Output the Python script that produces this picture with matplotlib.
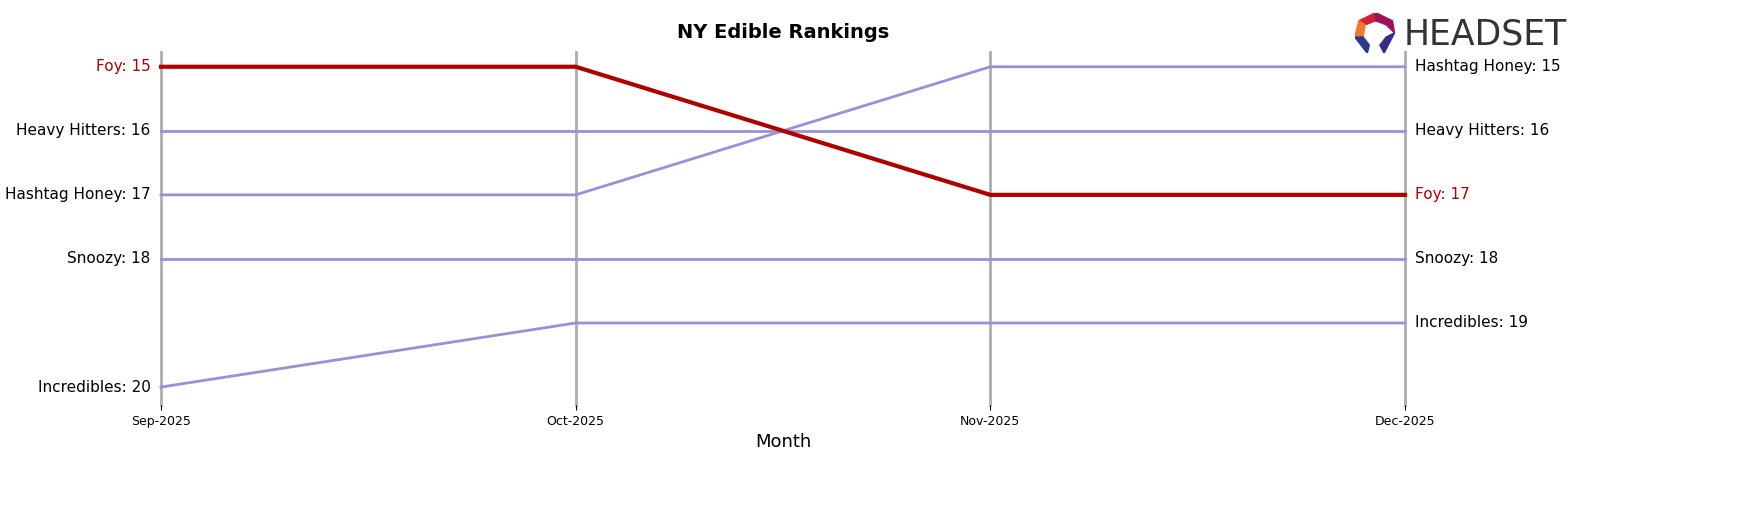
import matplotlib
matplotlib.use("Agg")
import matplotlib.pyplot as plt
from matplotlib.patches import Polygon

months = ["Sep-2025", "Oct-2025", "Nov-2025", "Dec-2025"]
brands = ["Foy", "Heavy Hitters", "Hashtag Honey", "Snoozy", "Incredibles"]
foy = [15, 15, 17, 17]
heavy_hitters = [16, 16, 16, 16]
hashtag_honey = [17, 17, 15, 15]
snoozy = [18, 18, 18, 18]
incredibles = [20, 19, 19, 19]
ranks = [foy, heavy_hitters, hashtag_honey, snoozy, incredibles]

highlight = "#b00000"
other = "#9b8fd9"

fig = plt.figure(figsize=(17.48, 5.07), dpi=100)
ax = fig.add_axes([0.0921, 0.2012, 0.7117, 0.6962])
x = list(range(len(months)))

for xi in x:
    ax.axvline(xi, color="#999999", lw=2, alpha=0.8, zorder=1, clip_on=False)

for name, r in zip(brands, ranks):
    is_hl = name == "Foy"
    ax.plot(x, r, color=highlight if is_hl else other,
            lw=3 if is_hl else 2, zorder=3 if is_hl else 2, clip_on=False)
    c = highlight if is_hl else "black"
    ax.text(-0.025, r[0], f"{name}: {r[0]}", ha="right", va="center",
            fontsize=11, color=c)
    ax.text(x[-1] + 0.025, r[-1], f"{name}: {r[-1]}", ha="left",
            va="center", fontsize=11, color=c)

ax.set_xlim(0, 3)
ax.set_ylim(20.28, 14.77)
ax.set_yticks([])
ax.set_xticks(x)
ax.set_xticklabels(months, fontsize=9)
ax.set_xlabel("Month", fontsize=13)
for s in ax.spines.values():
    s.set_visible(False)
ax.set_title("NY Edible Rankings", fontsize=14, fontweight="bold", pad=10)

# logo
fig.text(0.803, 0.932, "HEADSET", fontsize=25, color="#333333",
         va="center", ha="left", family="DejaVu Sans Condensed")
lax = fig.add_axes([0.775, 0.895, 0.024, 0.08])
lax.set_xlim(0, 1); lax.set_ylim(0, 1); lax.axis("off")
for pts, col in [([(0.1, 0.8), (0.5, 1), (0.5, 0.8), (0.25, 0.7)], "#d0203a"),
                 ([(0.5, 1), (0.9, 0.8), (0.95, 0.5), (0.75, 0.7), (0.5, 0.8)], "#a0105a"),
                 ([(0.1, 0.8), (0.25, 0.7), (0.2, 0.4), (0.0, 0.4)], "#f07830"),
                 ([(0.0, 0.4), (0.2, 0.4), (0.35, 0.2), (0.3, 0.0)], "#2a3a8a"),
                 ([(0.95, 0.5), (0.75, 0.4), (0.6, 0.2), (0.7, 0.0)], "#3a2a8a")]:
    lax.add_patch(Polygon(pts, closed=True, color=col))

fig.savefig("out.png", dpi=100)
